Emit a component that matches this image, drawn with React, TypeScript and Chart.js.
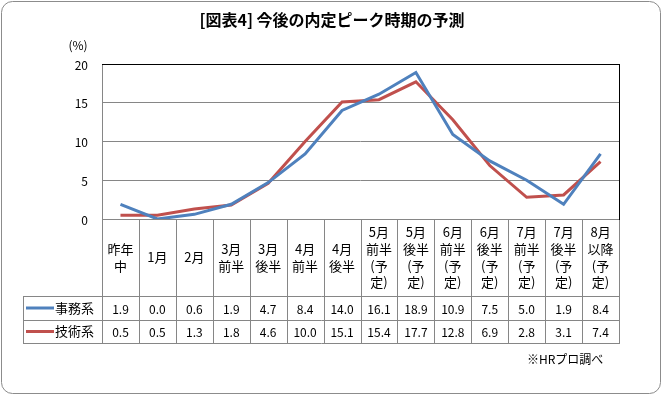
import React, { useEffect, useRef } from "react";
import { Chart, registerables } from "chart.js";
Chart.register(...registerables);

const categories: string[][] = [
  ["昨年", "中"], ["1月"], ["2月"], ["3月", "前半"], ["3月", "後半"], ["4月", "前半"], ["4月", "後半"],
  ["5月", "前半", "(予", "定)"], ["5月", "後半", "(予", "定)"], ["6月", "前半", "(予", "定)"],
  ["6月", "後半", "(予", "定)"], ["7月", "前半", "(予", "定)"], ["7月", "後半", "(予", "定)"], ["8月", "以降", "(予", "定)"],
];
const jimu = [1.9, 0.0, 0.6, 1.9, 4.7, 8.4, 14.0, 16.1, 18.9, 10.9, 7.5, 5.0, 1.9, 8.4];
const gijutsu = [0.5, 0.5, 1.3, 1.8, 4.6, 10.0, 15.1, 15.4, 17.7, 12.8, 6.9, 2.8, 3.1, 7.4];
const seriesNames = ["事務系", "技術系"];
const seriesColors = ["#4F81BD", "#C0504D"];
const yMin = 0;
const yMax = 20;
const yStep = 5;
const yTickLabels = ["0", "5", "10", "15", "20"];
const titleText = "[図表4] 今後の内定ピーク時期の予測";
const unitText = "(%)";
const sourceText = "※HRプロ調べ";

const FONT = "'Noto Sans CJK JP', 'Noto Sans', sans-serif";
const GRID = "#868686";

const px = (v: number) => Math.round(v) + 0.5;

const tablePlugin = {
  id: "excelTable",
  beforeDraw(chart: any) {
    const ctx = chart.ctx;
    ctx.save();
    ctx.fillStyle = "#fff";
    ctx.fillRect(0, 0, chart.width, chart.height);
    ctx.strokeStyle = "#8c8c8c";
    ctx.lineWidth = 1;
    ctx.beginPath();
    ctx.roundRect(1.5, 1.5, chart.width - 4, chart.height - 4, 11);
    ctx.stroke();
    ctx.restore();
  },
  beforeDatasetsDraw(chart: any) {
    const { ctx, chartArea: a, scales } = chart;
    const x = scales.x;
    const y = scales.y;
    const n = categories.length;
    const colW = (a.right - a.left) / n;
    const hdrBot = 296, r1 = 320, r2 = 343, legL = 23;
    ctx.save();
    ctx.lineWidth = 1;
    ctx.strokeStyle = GRID;
    const h = (x1: number, x2: number, yy: number) => {
      ctx.beginPath(); ctx.moveTo(Math.round(x1), px(yy)); ctx.lineTo(Math.round(x2) + 1, px(yy)); ctx.stroke();
    };
    const v = (xx: number, y1: number, y2: number) => {
      ctx.beginPath(); ctx.moveTo(px(xx), Math.round(y1)); ctx.lineTo(px(xx), Math.round(y2) + 1); ctx.stroke();
    };
    h(a.left, a.right, a.bottom);
    h(legL, a.right, hdrBot);
    h(legL, a.right, r1);
    h(legL, a.right, r2);
    v(legL, hdrBot, r2);
    for (let i = 0; i <= n; i++) {
      const xx = i < n ? x.getPixelForValue(i) - colW / 2 : x.getPixelForValue(n - 1) + colW / 2;
      v(xx, a.bottom, r2);
    }
    v(a.left, a.top, a.bottom);
    ctx.strokeStyle = "#000";
    h(a.left, a.right, a.top);
    v(a.right, a.top, a.bottom);

    ctx.fillStyle = "#000";
    ctx.textBaseline = "middle";
    // y tick labels
    ctx.textAlign = "right";
    ctx.font = `12px ${FONT}`;
    yTickLabels.forEach((t) => ctx.fillText(t, 88, y.getPixelForValue(Number(t)) + 1));

    // header labels
    ctx.textAlign = "center";
    ctx.font = `13px ${FONT}`;
    const hdrMid = (a.bottom + hdrBot) / 2;
    const lh = 16.7;
    categories.forEach((lines, i) => {
      const cx = x.getPixelForValue(i);
      const start = hdrMid - ((lines.length - 1) * lh) / 2;
      lines.forEach((t, j) => ctx.fillText(t, cx, start + j * lh));
    });
    ctx.font = `12px ${FONT}`;
    const rows = [jimu, gijutsu];
    const mids = [(hdrBot + r1) / 2, (r1 + r2) / 2];
    rows.forEach((arr, r) => {
      arr.forEach((val, i) => ctx.fillText(val.toFixed(1), x.getPixelForValue(i), mids[r] + 1));
    });
    ctx.textAlign = "left";
    ctx.font = `13px ${FONT}`;
    seriesNames.forEach((name, r) => {
      ctx.strokeStyle = seriesColors[r];
      ctx.lineWidth = 3;
      ctx.beginPath();
      ctx.moveTo(26, mids[r]);
      ctx.lineTo(54, mids[r]);
      ctx.stroke();
      ctx.fillStyle = "#000";
      ctx.fillText(name, 55, mids[r]);
    });
    ctx.restore();
  },
  afterDraw(chart: any) {
    const ctx = chart.ctx;
    ctx.save();
    ctx.fillStyle = "#000";
    ctx.textBaseline = "middle";
    ctx.textAlign = "center";
    ctx.font = `bold 16px ${FONT}`;
    ctx.fillText(titleText, 332, 20);
    ctx.font = `12px ${FONT}`;
    ctx.fillText(unitText, 78, 45);
    ctx.textAlign = "left";
    ctx.fillText(sourceText, 527, 359);
    ctx.restore();
  },
};

export default function App() {
  const ref = useRef<HTMLCanvasElement>(null);
  useEffect(() => {
    if (!ref.current) return;
    const chart = new Chart(ref.current, {
      type: "line",
      data: {
        labels: categories.map((c) => c.join("")),
        datasets: [
          { label: seriesNames[0], data: jimu, borderColor: seriesColors[0], backgroundColor: seriesColors[0], borderWidth: 3, pointRadius: 0, tension: 0 },
          { label: seriesNames[1], data: gijutsu, borderColor: seriesColors[1], backgroundColor: seriesColors[1], borderWidth: 3, pointRadius: 0, tension: 0 },
        ],
      },
      options: {
        responsive: false,
        animation: false,
        devicePixelRatio: 1,
        layout: { padding: { left: 102, right: 44, top: 64, bottom: 177 } },
        plugins: { legend: { display: false }, title: { display: false }, tooltip: { enabled: false } },
        scales: {
          x: { type: "category", display: false, offset: true },
          y: {
            min: yMin,
            max: yMax,
            ticks: { stepSize: yStep, display: false },
            grid: { color: GRID, drawTicks: false, lineWidth: 1 },
            border: { display: false },
            afterFit: (s: any) => { s.width = 0; },
          },
        },
      },
      plugins: [tablePlugin],
    });
    return () => chart.destroy();
  }, []);
  return (
    <div style={{ position: "absolute", left: 0, top: 0, width: 663, height: 396 }}>
      <canvas ref={ref} width={663} height={396} style={{ display: "block" }} />
    </div>
  );
}
